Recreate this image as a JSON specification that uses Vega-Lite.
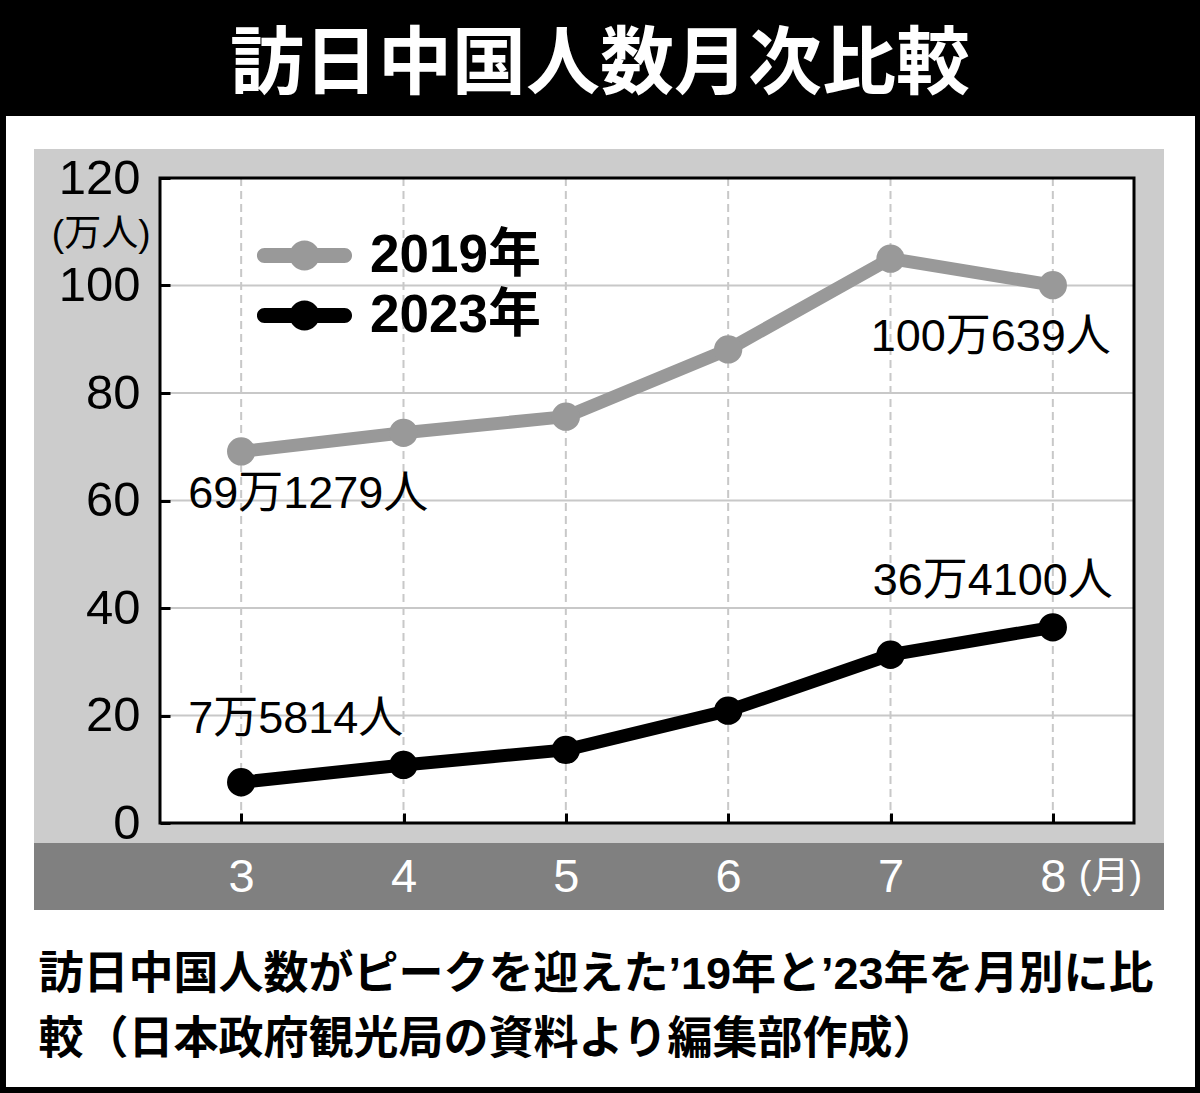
{
  "$schema": "https://vega.github.io/schema/vega-lite/v6.json",
  "autosize": {"type": "none"},
  "padding": {"left": 160, "top": 178, "right": 66, "bottom": 270},
  "width": 974,
  "height": 645,
  "background": "#000000",
  "title": {
    "text": "訪日中国人数月次比較",
    "color": "#ffffff",
    "fontSize": 74,
    "font": "Noto Sans CJK JP",
    "fontWeight": "bold",
    "anchor": "middle",
    "frame": "group",
    "dx": -47,
    "offset": -62,
    "baseline": "bottom"
  },
  "datasets": {
    "series": [
      {"year": "2019年", "month": 3, "visitors": 69.13, "label": "69万1279人"},
      {"year": "2019年", "month": 4, "visitors": 72.6, "label": null},
      {"year": "2019年", "month": 5, "visitors": 75.6, "label": null},
      {"year": "2019年", "month": 6, "visitors": 88.1, "label": null},
      {"year": "2019年", "month": 7, "visitors": 105.0, "label": null},
      {"year": "2019年", "month": 8, "visitors": 100.06, "label": "100万639人"},
      {"year": "2023年", "month": 3, "visitors": 7.58, "label": "7万5814人"},
      {"year": "2023年", "month": 4, "visitors": 10.8, "label": null},
      {"year": "2023年", "month": 5, "visitors": 13.6, "label": null},
      {"year": "2023年", "month": 6, "visitors": 20.9, "label": null},
      {"year": "2023年", "month": 7, "visitors": 31.3, "label": null},
      {"year": "2023年", "month": 8, "visitors": 36.41, "label": "36万4100人"}
    ],
    "ygrid": [{"v": 20}, {"v": 40}, {"v": 60}, {"v": 80}, {"v": 100}],
    "one": [{}]
  },
  "config": {"view": {"stroke": null, "fill": "#ffffff"}},
  "layer": [
    {
      "data": {"name": "one"},
      "mark": {"type": "rect", "color": "#ffffff"},
      "encoding": {
        "x": {"datum": 1.5513, "type": "quantitative"},
        "x2": {"datum": 8.8758},
        "y": {"datum": 131.53, "type": "quantitative"},
        "y2": {"datum": -49.12}
      }
    },
    {
      "data": {"name": "one"},
      "mark": {"type": "rect", "color": "#cccccc"},
      "encoding": {
        "x": {"datum": 1.7238, "type": "quantitative"},
        "x2": {"datum": 8.6848},
        "y": {"datum": 125.4, "type": "quantitative"},
        "y2": {"datum": -3.72}
      }
    },
    {
      "data": {"name": "one"},
      "mark": {"type": "rect", "color": "#808080"},
      "encoding": {
        "x": {"datum": 1.7238, "type": "quantitative"},
        "x2": {"datum": 8.6848},
        "y": {"datum": -3.72, "type": "quantitative"},
        "y2": {"datum": -16.19}
      }
    },
    {
      "data": {"name": "one"},
      "mark": {"type": "rect", "color": "#ffffff"},
      "encoding": {
        "x": {"datum": 2.5, "type": "quantitative"},
        "x2": {"datum": 8.5},
        "y": {"datum": 0, "type": "quantitative"},
        "y2": {"datum": 120}
      }
    },
    {
      "data": {"name": "series"},
      "transform": [{"filter": "datum.year == '2019年'"}],
      "mark": {"type": "rule", "color": "#c8c8c8", "strokeWidth": 2, "strokeDash": [8, 5]},
      "encoding": {"x": {"field": "month", "type": "quantitative"}}
    },
    {
      "data": {"name": "ygrid"},
      "mark": {"type": "rule", "color": "#c8c8c8", "strokeWidth": 2},
      "encoding": {"y": {"field": "v", "type": "quantitative"}}
    },
    {
      "data": {"name": "series"},
      "encoding": {
        "x": {
          "field": "month",
          "type": "quantitative",
          "scale": {"domain": [2.5, 8.5], "nice": false, "zero": false},
          "axis": {
            "values": [3, 4, 5, 6, 7, 8],
            "format": "d",
            "grid": false,
            "domain": false,
            "zindex": 1,
            "tickSize": -10,
            "tickWidth": 3,
            "tickColor": "#000000",
            "labelColor": "#ffffff",
            "labelFont": "Liberation Sans",
            "labelFontSize": 47,
            "labelPadding": 64,
            "labelBaseline": "middle",
            "labelFlush": false,
            "title": ["訪日中国人数がピークを迎えた’19年と’23年を月別に比", "較（日本政府観光局の資料より編集部作成）"],
            "titleColor": "#000000",
            "titleFont": "Liberation Sans, Noto Sans CJK JP",
            "titleFontWeight": "bold",
            "titleFontSize": 45,
            "titleLineHeight": 65,
            "titleAlign": "left",
            "titleAnchor": "start",
            "titleBaseline": "top",
            "titleX": -122,
            "titleY": 129
          }
        },
        "y": {
          "field": "visitors",
          "type": "quantitative",
          "scale": {"domain": [0, 120], "nice": false},
          "axis": {
            "values": [0, 20, 40, 60, 80, 100, 120],
            "grid": false,
            "domain": false,
            "zindex": 1,
            "tickSize": -10,
            "tickWidth": 3,
            "tickColor": "#000000",
            "labelColor": "#000000",
            "labelFont": "Liberation Sans",
            "labelFontSize": 49,
            "labelPadding": 30,
            "labelFlush": false,
            "title": "(万人)",
            "titleAngle": 0,
            "titleColor": "#000000",
            "titleFont": "Liberation Sans, Noto Sans CJK JP",
            "titleFontWeight": "normal",
            "titleFontSize": 37,
            "titleAlign": "right",
            "titleBaseline": "middle",
            "titleX": -10,
            "titleY": 56
          }
        },
        "color": {
          "field": "year",
          "type": "nominal",
          "scale": {"domain": ["2019年", "2023年"], "range": ["#999999", "#000000"]},
          "legend": {
            "title": null,
            "orient": "none",
            "legendX": 118,
            "legendY": 51,
            "padding": 0,
            "symbolType": "M -2.67 -0.5 L 2.67 -0.5 A 0.5 0.5 0 0 1 2.67 0.5 L -2.67 0.5 A 0.5 0.5 0 0 1 -2.67 -0.5 Z M 1 0 A 1 1 0 0 1 -1 0 A 1 1 0 0 1 1 0 Z",
            "symbolSize": 900,
            "symbolStrokeWidth": 0,
            "labelFont": "Liberation Sans, Noto Sans CJK JP",
            "labelFontWeight": "bold",
            "labelFontSize": 53,
            "labelColor": "#000000",
            "labelLimit": 0,
            "labelOffset": 39,
            "rowPadding": 6,
            "encode": {
              "symbols": {
                "update": {
                  "fill": {"scale": "color", "field": "value"},
                  "stroke": {"value": "transparent"},
                  "opacity": {"value": 1}
                }
              }
            }
          }
        }
      },
      "layer": [
        {"mark": {"type": "line", "strokeWidth": 13, "strokeCap": "round", "strokeJoin": "round"}},
        {"mark": {"type": "point", "filled": true, "size": 800, "opacity": 1}},
        {
          "transform": [{"filter": "datum.year == '2019年' && datum.month == 3"}],
          "mark": {"type": "text", "align": "left", "baseline": "middle", "dx": -53, "dy": 43, "fontSize": 45, "font": "Liberation Sans, Noto Sans CJK JP"},
          "encoding": {"text": {"field": "label"}, "color": {"value": "#000000"}}
        },
        {
          "transform": [{"filter": "datum.year == '2019年' && datum.month == 8"}],
          "mark": {"type": "text", "align": "right", "baseline": "middle", "dx": 58, "dy": 52, "fontSize": 45, "font": "Liberation Sans, Noto Sans CJK JP"},
          "encoding": {"text": {"field": "label"}, "color": {"value": "#000000"}}
        },
        {
          "transform": [{"filter": "datum.year == '2023年' && datum.month == 8"}],
          "mark": {"type": "text", "align": "right", "baseline": "middle", "dx": 60, "dy": -46, "fontSize": 45, "font": "Liberation Sans, Noto Sans CJK JP"},
          "encoding": {"text": {"field": "label"}, "color": {"value": "#000000"}}
        },
        {
          "transform": [{"filter": "datum.year == '2023年' && datum.month == 3"}],
          "mark": {"type": "text", "align": "left", "baseline": "middle", "dx": -53, "dy": -63, "fontSize": 45, "font": "Liberation Sans, Noto Sans CJK JP"},
          "encoding": {"text": {"field": "label"}, "color": {"value": "#000000"}}
        }
      ]
    },
    {
      "data": {"name": "one"},
      "mark": {"type": "text", "text": "(月)", "align": "left", "baseline": "middle", "dx": 26, "dy": 54, "fontSize": 38, "font": "Liberation Sans, Noto Sans CJK JP", "color": "#ffffff"},
      "encoding": {
        "x": {"datum": 8, "type": "quantitative"},
        "y": {"datum": 0, "type": "quantitative"}
      }
    },
    {
      "data": {"name": "one"},
      "mark": {"type": "rect", "fill": null, "fillOpacity": 0, "stroke": "#000000", "strokeWidth": 3},
      "encoding": {
        "x": {"datum": 2.5, "type": "quantitative"},
        "x2": {"datum": 8.5},
        "y": {"datum": 0, "type": "quantitative"},
        "y2": {"datum": 120}
      }
    }
  ]
}
